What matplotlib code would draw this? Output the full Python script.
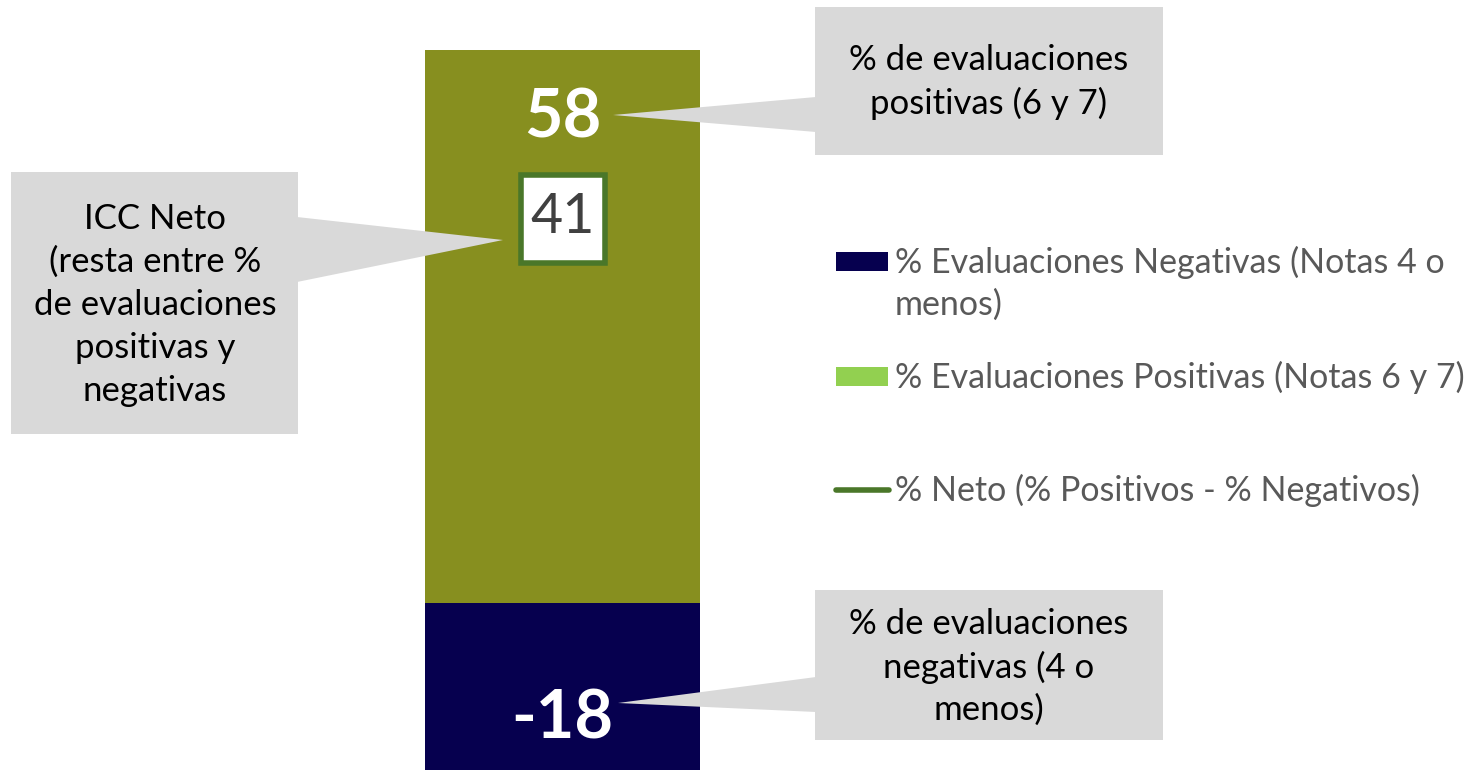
import matplotlib.pyplot as plt
import matplotlib.transforms as mtransforms
from matplotlib.patches import Rectangle, Polygon

plt.rcParams['font.family'] = ['Lato', 'DejaVu Sans']

W, H = 1472, 770

# data
categorias = ['ICC']
positivas = [58]
negativas = [-18]
neto = [41]

legend_labels = ['% Evaluaciones Negativas (Notas 4 o\nmenos)',
                 '% Evaluaciones Positivas (Notas 6 y 7)',
                 '% Neto (% Positivos - % Negativos)']
callout_pos = '% de evaluaciones\npositivas (6 y 7)'
callout_neg = '% de evaluaciones\nnegativas (4 o\nmenos)'
callout_neto = 'ICC Neto\n(resta entre %\nde evaluaciones\npositivas y\nnegativas'

C_POS = '#878F1F'
C_NEG = '#06004F'
C_POS_LEG = '#92D050'
C_NETO = '#4A7729'
C_BOX = '#D9D9D9'
C_LEG_TXT = '#595959'


def px(x, y):
    """pixel (from top-left) -> figure fraction"""
    return (x / W, 1 - y / H)


fig = plt.figure(figsize=(W / 100, H / 100), dpi=100)
fig.patch.set_facecolor('white')

ax = fig.add_axes([425 / W, 0, 275 / W, 1])
x = range(len(categorias))
# soft shadow behind the bar
ax.bar(x, positivas, width=1.03, color='#BBBBBB', alpha=0.5, zorder=1)
ax.bar(x, negativas, width=1.03, color='#BBBBBB', alpha=0.5, zorder=1)
ax.bar(x, positivas, width=1, color=C_POS, zorder=2)
ax.bar(x, negativas, width=1, color=C_NEG, zorder=2)
ax.set_xlim(-0.5, 0.5)
ax.set_ylim(-17.52, 63.24)
ax.axis('off')

for i in x:
    ax.annotate(f'{positivas[i]}', xy=(i, positivas[i]), xytext=(0, -49),
                textcoords='offset points', ha='center', va='center',
                fontsize=48, fontweight='bold', color='white', zorder=3)
    ax.annotate(f'{negativas[i]}', xy=(i, negativas[i]), xytext=(0, 40),
                textcoords='offset points', ha='center', va='center',
                fontsize=48, fontweight='bold', color='white', zorder=3,
                annotation_clip=False)
    # box around the net value, sized in inches around the data point
    box_tr = fig.dpi_scale_trans + mtransforms.ScaledTranslation(i, neto[i], ax.transData)
    ax.add_patch(Rectangle((-0.42, -0.51), 0.84, 0.88, transform=box_tr,
                           fc='white', ec=C_NETO, lw=4, zorder=3, clip_on=False))
    ax.annotate(f'{neto[i]}', xy=(i, neto[i]), xytext=(0, -4),
                textcoords='offset points', ha='center', va='center',
                fontsize=40, color='#404040', zorder=4)


def callout(x0, y0, x1, y1, base, tip, text, tx, ty, ls=1.38):
    fig.patches.append(Rectangle(px(x0, y1), (x1 - x0) / W, (y1 - y0) / H,
                                 transform=fig.transFigure, fc=C_BOX, ec='none', zorder=1))
    pts = [px(*base[0]), px(*tip), px(*base[1])]
    fig.patches.append(Polygon(pts, closed=True, transform=fig.transFigure,
                               fc=C_BOX, ec='none', zorder=5))
    fig.text(*px(tx, ty), text, ha='center', va='center', fontsize=25,
             color='black', linespacing=ls, zorder=6)


callout(815, 7, 1163, 155, [(816, 97), (816, 132)], (613, 115), callout_pos, 989, 82)
callout(815, 590, 1163, 740, [(816, 677), (816, 712)], (618, 703), callout_neg, 989, 667)
callout(11, 172, 298, 434, [(297, 217), (297, 282)], (503, 240), callout_neto, 155, 305, ls=1.42)

# legend drawn by hand to keep the handle aligned to the first line
LEG_FS = 24.5
fig.patches.append(Rectangle(px(836, 271), 52 / W, 19 / H, transform=fig.transFigure,
                             fc=C_NEG, ec='none'))
fig.text(*px(895, 246), legend_labels[0], ha='left', va='top', fontsize=LEG_FS,
         color=C_LEG_TXT, linespacing=1.36)
fig.patches.append(Rectangle(px(836, 386), 52 / W, 19 / H, transform=fig.transFigure,
                             fc=C_POS_LEG, ec='none'))
fig.text(*px(895, 377), legend_labels[1], ha='left', va='center', fontsize=LEG_FS,
         color=C_LEG_TXT)
fig.lines.append(plt.Line2D([836 / W, 889 / W], [1 - 490 / H, 1 - 490 / H],
                            transform=fig.transFigure, color=C_NETO, lw=4,
                            solid_capstyle='round'))
fig.text(*px(895, 490), legend_labels[2], ha='left', va='center', fontsize=LEG_FS,
         color=C_LEG_TXT)

fig.savefig('out.png', dpi=100)
